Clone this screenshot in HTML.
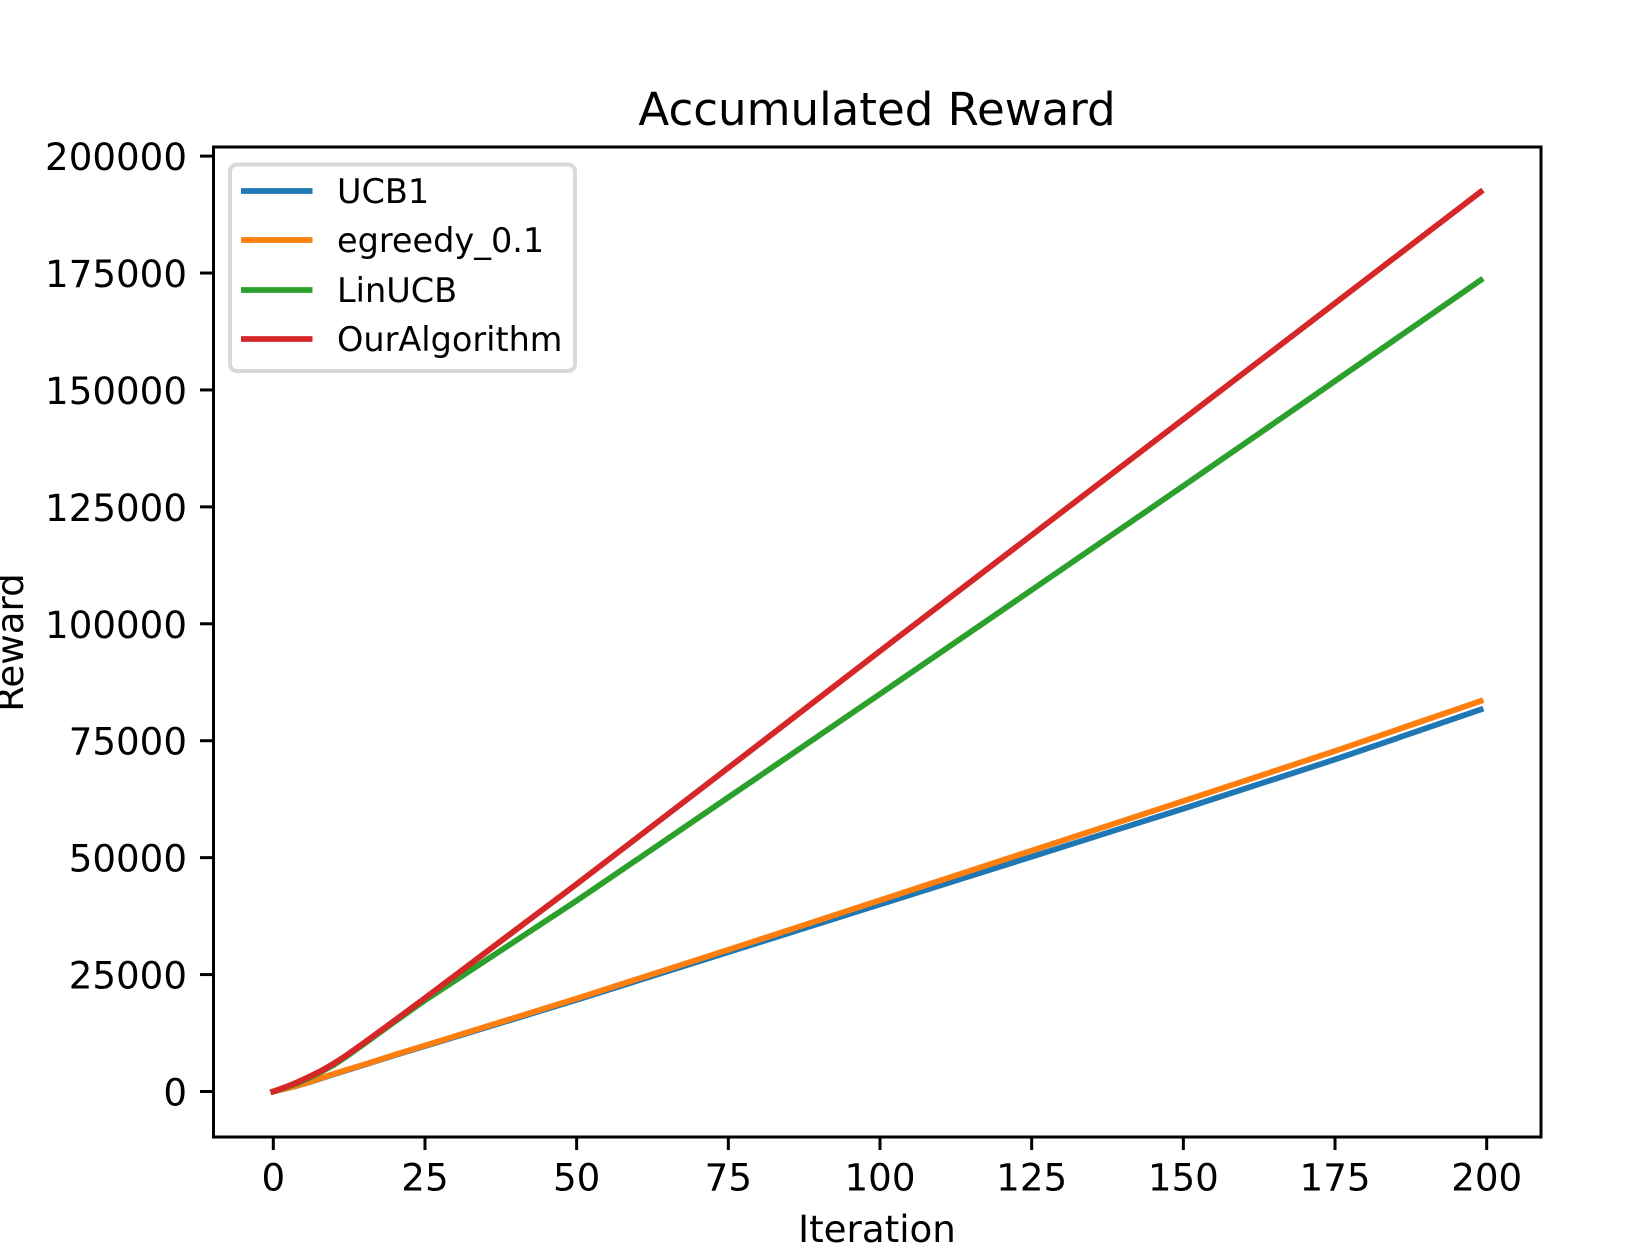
<!DOCTYPE html>
<html lang="en">
<head>
<meta charset="utf-8">
<title>Accumulated Reward</title>
<style>
  html, body { margin: 0; padding: 0; background: #fff; }
  body { width: 1643px; height: 1258px; overflow: hidden; }
  svg { display: block; }
  text { font-family: "DejaVu Sans", "Liberation Sans", sans-serif; fill: #000; }
</style>
</head>
<body>
<svg id="chart" xmlns="http://www.w3.org/2000/svg" width="1643" height="1258" viewBox="0 0 1643 1258">
  <rect x="0" y="0" width="1643" height="1258" fill="#ffffff"/>
  <g id="ticks"></g>
  <g id="lines"></g>
  <rect x="213.5" y="147" width="1327.5" height="990" fill="none" stroke="#000" stroke-width="3"/>
  <text x="877" y="125" font-size="45.1" text-anchor="middle">Accumulated Reward</text>
  <text x="877" y="1242" font-size="37.2" text-anchor="middle">Iteration</text>
  <text transform="translate(23,642.5) rotate(-90)" font-size="37.2" text-anchor="middle">Reward</text>
  <g>
    <rect x="230" y="164.5" width="345" height="206.5" rx="7" ry="7" fill="#fff" fill-opacity="0.8" stroke="#d9d9d9" stroke-width="4"/>
    <line x1="241" y1="191" x2="312.5" y2="191" stroke="#1f77b4" stroke-width="5.8"/>
    <text x="337" y="203" font-size="33.5">UCB1</text>
    <line x1="241" y1="240" x2="312.5" y2="240" stroke="#ff7f0e" stroke-width="5.8"/>
    <text x="337" y="252" font-size="33.5">egreedy_0.1</text>
    <line x1="241" y1="290" x2="312.5" y2="290" stroke="#2ca02c" stroke-width="5.8"/>
    <text x="337" y="302" font-size="33.5">LinUCB</text>
    <line x1="241" y1="339" x2="312.5" y2="339" stroke="#d62728" stroke-width="5.8"/>
    <text x="337" y="351" font-size="33.5">OurAlgorithm</text>
  </g>
</svg>
<script>
const iterations = [0, 2, 4, 6, 8, 10, 12, 15, 20, 25, 50, 75, 100, 125, 150, 175, 199];
const ucb1Values = [0, 600, 1250, 2000, 2850, 3700, 4500, 5700, 7750, 9700, 19600, 29800, 40000, 50200, 60470, 71000, 81650];
const egreedyValues = [0, 620, 1280, 2050, 2950, 3780, 4600, 5770, 7850, 9840, 19890, 30300, 40900, 51500, 62100, 72800, 83480];
const linucbValues = [0, 850, 1800, 2950, 4300, 5700, 7450, 10200, 14900, 19500, 40790, 62900, 84990, 107230, 129480, 151900, 173480];
const ourAlgorithmValues = [0, 950, 2000, 3200, 4500, 6000, 7700, 10450, 15190, 19970, 44350, 69200, 94180, 118960, 143750, 168550, 192360];
const xTickValues = [0, 25, 50, 75, 100, 125, 150, 175, 200];
const yTickValues = [0, 25000, 50000, 75000, 100000, 125000, 150000, 175000, 200000];

const SVG_NS = 'http://www.w3.org/2000/svg';

function xScale(v) {
  return 273.3 + v * 6.067;
}
function yScale(v) {
  return 1091.5 - v * 0.004677;
}

const tickGroup = document.getElementById('ticks');
const lineGroup = document.getElementById('lines');

xTickValues.forEach(function (v) {
  const x = xScale(v);
  const mark = document.createElementNS(SVG_NS, 'line');
  
  
  mark.setAttribute('x1', x);
  mark.setAttribute('x2', x);
  mark.setAttribute('y1', 1137);
  mark.setAttribute('y2', 1150);
  mark.setAttribute('stroke', '#000');
  mark.setAttribute('stroke-width', 3);
  tickGroup.appendChild(mark);
  const label = document.createElementNS(SVG_NS, 'text');
  
  
  label.setAttribute('x', x);
  label.setAttribute('y', 1190.5);
  label.setAttribute('font-size', 37.2);
  label.setAttribute('text-anchor', 'middle');
  label.textContent = String(v);
  tickGroup.appendChild(label);
});

yTickValues.forEach(function (v) {
  const y = yScale(v);
  const mark = document.createElementNS(SVG_NS, 'line');
  
  
  mark.setAttribute('x1', 200);
  mark.setAttribute('x2', 213);
  mark.setAttribute('y1', y);
  mark.setAttribute('y2', y);
  mark.setAttribute('stroke', '#000');
  mark.setAttribute('stroke-width', 3);
  tickGroup.appendChild(mark);
  const label = document.createElementNS(SVG_NS, 'text');
  
  
  label.setAttribute('x', 187);
  label.setAttribute('y', y + 14);
  label.setAttribute('font-size', 37.2);
  label.setAttribute('text-anchor', 'end');
  label.textContent = String(v);
  tickGroup.appendChild(label);
});

function drawSeries(values, color, name) {
  const path = document.createElementNS(SVG_NS, 'path');
  
  
  const d = values.map(function (v, i) {
    return (i === 0 ? 'M' : 'L') + xScale(iterations[i]).toFixed(2) + ' ' + yScale(v).toFixed(2);
  }).join(' ');
  path.setAttribute('d', d);
  path.setAttribute('fill', 'none');
  path.setAttribute('stroke', color);
  path.setAttribute('stroke-width', 5.8);
  path.setAttribute('stroke-linecap', 'square');
  path.setAttribute('stroke-linejoin', 'round');
  lineGroup.appendChild(path);
}

drawSeries(ucb1Values, '#1f77b4', 'line-ucb1');
drawSeries(egreedyValues, '#ff7f0e', 'line-egreedy');
drawSeries(linucbValues, '#2ca02c', 'line-linucb');
drawSeries(ourAlgorithmValues, '#d62728', 'line-our-algorithm');
</script>
</body>
</html>
